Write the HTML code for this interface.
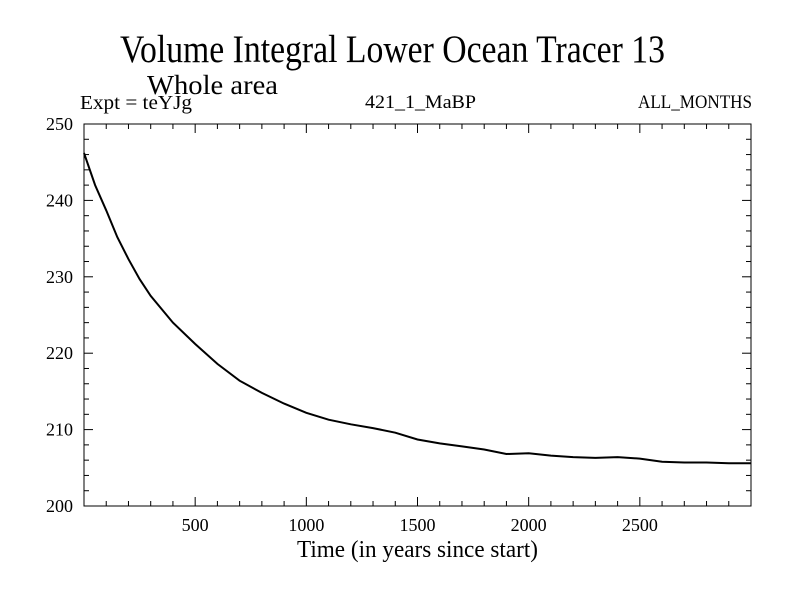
<!DOCTYPE html>
<html><head><meta charset="utf-8"><style>
body{margin:0;background:#fff}
svg text{font-family:"Liberation Serif",serif;fill:#000}
</style></head><body>
<svg width="800" height="600" viewBox="0 0 800 600">
<text x="120" y="62" font-size="39" textLength="545" lengthAdjust="spacingAndGlyphs">Volume Integral Lower Ocean Tracer 13</text>
<text x="147" y="94" font-size="27" textLength="131" lengthAdjust="spacingAndGlyphs">Whole area</text>
<text x="80" y="109" font-size="20" textLength="112" lengthAdjust="spacingAndGlyphs">Expt = teYJg</text>
<text x="365" y="108" font-size="19" textLength="111" lengthAdjust="spacingAndGlyphs">421_1_MaBP</text>
<text x="638" y="108" font-size="19" textLength="114" lengthAdjust="spacingAndGlyphs">ALL_MONTHS</text>
<g id="axes"></g>
<path id="series" fill="none" stroke="#000" stroke-width="2"/>
<rect x="84" y="124" width="667" height="382" fill="none" stroke="#000" stroke-width="1"/>
<text x="297" y="557" font-size="24" textLength="241" lengthAdjust="spacingAndGlyphs">Time (in years since start)</text>
</svg>
<script>
const years=[0,50,100,150,200,250,300,400,500,600,700,800,900,1000,1100,1200,1300,1400,1500,1600,1700,1800,1900,2000,2100,2200,2300,2400,2500,2600,2700,2800,2900,3000];
const values=[246.2,242,238.7,235.2,232.3,229.7,227.5,224,221.2,218.6,216.4,214.8,213.4,212.2,211.3,210.7,210.2,209.6,208.7,208.2,207.8,207.4,206.8,206.9,206.6,206.4,206.3,206.4,206.2,205.8,205.7,205.7,205.6,205.6];
const xTicks=[500,1000,1500,2000,2500];
const yTicks=[200,210,220,230,240,250];
const X0=84,X1=751,Y0=506,Y1=124,XMIN=0,XMAX=3000,YMIN=200,YMAX=250;
const sx=v=>X0+(v-XMIN)/(XMAX-XMIN)*(X1-X0);
const sy=v=>Y0-(v-YMIN)/(YMAX-YMIN)*(Y0-Y1);
const NS="http://www.w3.org/2000/svg";
const g=document.getElementById('axes');
function mk(tag,attrs){const e=document.createElementNS(NS,tag);for(const k in attrs)e.setAttribute(k,attrs[k]);g.appendChild(e);return e;}
for(let t=100;t<XMAX;t+=100){
  const major=t%500===0,len=major?9:5;
  let e=mk('line',{x1:sx(t),x2:sx(t),y1:Y0,y2:Y0-len,stroke:'#000'});
  
  
  e=mk('line',{x1:sx(t),x2:sx(t),y1:Y1,y2:Y1+len,stroke:'#000'});
  
  
}
xTicks.forEach(t=>{
  const e=mk('text',{x:sx(t),y:Y0+25,'font-size':18,'text-anchor':'middle'});
  e.textContent=t;
  
  
});
for(let v=YMIN+2;v<YMAX;v+=2){
  const major=v%10===0,len=major?9:5;
  let e=mk('line',{x1:X0,x2:X0+len,y1:sy(v),y2:sy(v),stroke:'#000'});
  
  
  e=mk('line',{x1:X1,x2:X1-len,y1:sy(v),y2:sy(v),stroke:'#000'});
  
  
}
yTicks.forEach(v=>{
  const e=mk('text',{x:X0-11,y:sy(v)+6,'font-size':18,'text-anchor':'end'});
  e.textContent=v;
  
  
});
let d='';
years.forEach((t,i)=>{d+=(i?'L':'M')+sx(t).toFixed(1)+' '+sy(values[i]).toFixed(1);});
document.getElementById('series').setAttribute('d',d);
</script>
</body></html>
